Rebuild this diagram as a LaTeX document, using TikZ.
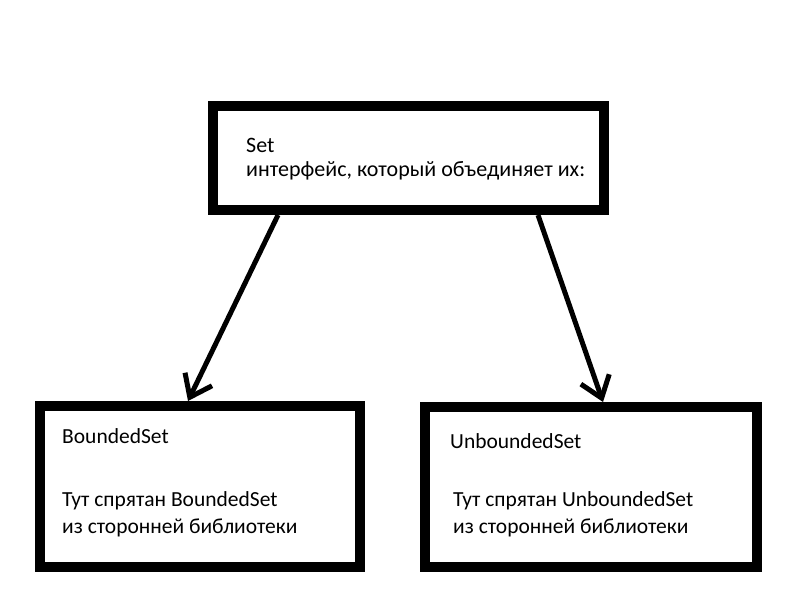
\documentclass[tikz,border=0pt]{standalone}
\usepackage{fontspec}
\setmainfont{Carlito}
\usetikzlibrary{arrows.meta,calc}
\begin{document}
\begin{tikzpicture}[x=1pt,y=-1pt,
  boxstyle/.style={draw=black,line width=10pt,fill=white,inner sep=0pt,rectangle},
  txt/.style={anchor=base west,inner sep=0pt,font=\fontsize{22}{24}\selectfont},
  txtb/.style={anchor=base west,inner sep=0pt,font=\fontsize{21.5}{26}\selectfont},
  arr/.style={line width=5pt,-{Straight Barb[length=20pt,width=30pt,line width=5pt]}}]
\useasboundingbox (0,0) rectangle (800,600);
\node[boxstyle,minimum width=391pt,minimum height=104pt] (top) at (408.5,158) {};
\node[boxstyle,minimum width=320pt,minimum height=161pt] (left) at (200,486.5) {};
\node[boxstyle,minimum width=332pt,minimum height=160pt] (right) at (591,487) {};
\node[txt] (t1) at (246,152.5) {Set};
\node[txt] (t2) at (246,176.5) {интерфейс, который объединяет их:};
\node[txtb] (l1) at (62,443) {BoundedSet};
\node[txtb] (l2) at (62,506) {Тут спрятан BoundedSet};
\node[txtb] (l3) at (62,533) {из сторонней библиотеки};
\node[txtb] (r1) at (450,448) {UnboundedSet};
\node[txtb] (r2) at (453,506) {Тут спрятан UnboundedSet};
\node[txtb] (r3) at (453,533) {из сторонней библиотеки};
\draw[arr] ([xshift=-130.5pt]top.south) -- ([xshift=-12pt]left.north);
\draw[arr] ([xshift=129.5pt]top.south) -- ([xshift=12pt]right.north);
\end{tikzpicture}
\end{document}
